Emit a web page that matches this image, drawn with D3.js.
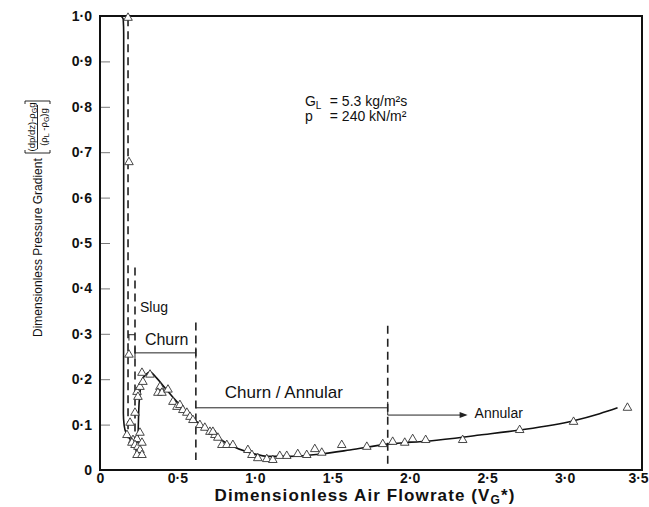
<!DOCTYPE html>
<html>
<head>
<meta charset="utf-8">
<script src="https://cdn.jsdelivr.net/npm/d3@7/dist/d3.min.js"></script>
<style>
  body { margin: 0; background: #fff; }
  svg text { font-family: "Liberation Sans", Arial, sans-serif; fill: #111; }
</style>
</head>
<body>
<script>
"use strict";

var width = 649, height = 507;
var margin = { left: 100, right: 7, top: 16, bottom: 37 };

// axis ticks
var xTicks = [0, 0.5, 1.0, 1.5, 2.0, 2.5, 3.0, 3.5];
var yTicks = [0, 0.1, 0.2, 0.3, 0.4, 0.5, 0.6, 0.7, 0.8, 0.9, 1.0];

// measured points (triangles)
var pointX = [0.181, 0.187, 0.187, 0.194, 0.226, 0.174, 0.213, 0.239, 0.206, 0.226,
  0.245, 0.258, 0.271, 0.258, 0.239, 0.271, 0.239, 0.258, 0.245, 0.271,
  0.323, 0.277, 0.387, 0.374, 0.400, 0.439, 0.471, 0.497, 0.516, 0.535,
  0.561, 0.581, 0.600, 0.645, 0.677, 0.710, 0.742, 0.761, 0.787, 0.729,
  0.819, 0.858, 0.955, 0.981, 1.019, 1.077, 1.116, 1.161, 1.206, 1.277,
  1.335, 1.387, 1.432, 1.561, 1.723, 1.826, 1.890, 1.968, 2.019, 2.103,
  2.342, 2.710, 3.058, 3.406];
var pointY = [0.996, 0.678, 0.254, 0.104, 0.126, 0.077, 0.066, 0.068, 0.060, 0.055,
  0.051, 0.044, 0.060, 0.082, 0.033, 0.033, 0.172, 0.183, 0.161, 0.214,
  0.210, 0.194, 0.183, 0.170, 0.170, 0.177, 0.150, 0.139, 0.143, 0.132,
  0.126, 0.117, 0.110, 0.099, 0.093, 0.084, 0.077, 0.071, 0.055, 0.084,
  0.055, 0.055, 0.044, 0.033, 0.026, 0.024, 0.022, 0.031, 0.031, 0.035,
  0.033, 0.046, 0.038, 0.055, 0.051, 0.057, 0.062, 0.060, 0.068, 0.066,
  0.066, 0.088, 0.106, 0.137];

// fitted curves
var curve1X = [0.135, 0.150, 0.153, 0.153, 0.152, 0.151, 0.156, 0.168, 0.194, 0.226, 0.239];
var curve1Y = [1.000, 0.993, 0.960, 0.600, 0.200, 0.125, 0.098, 0.082, 0.068, 0.051, 0.033];
var curve2X = [0.239, 0.245, 0.250, 0.258, 0.272, 0.295, 0.323, 0.365, 0.419, 0.484,
  0.548, 0.619, 0.710, 0.839, 0.968, 1.097, 1.226, 1.419, 1.613, 1.858,
  2.129, 2.452, 2.710, 3.052, 3.226, 3.342];
var curve2Y = [0.029, 0.066, 0.130, 0.170, 0.198, 0.210, 0.216, 0.203, 0.181, 0.155,
  0.132, 0.108, 0.084, 0.055, 0.038, 0.030, 0.030, 0.035, 0.044, 0.057,
  0.064, 0.077, 0.088, 0.108, 0.124, 0.137];

// regime boundaries (dashed)
var boundaryX = [0.181, 0.226, 0.619, 1.858];
var boundaryTop = [0.995, 0.446, 0.325, 0.318];
var boundaryBottom = [0.070, 0.060, 0.022, 0.008];

var regimeNames = ["Slug", "Churn", "Churn / Annular", "Annular"];

var x = d3.scaleLinear().domain([0, 3.5]).range([margin.left, width - margin.right]);
var y = d3.scaleLinear().domain([0, 1]).range([height - margin.bottom, margin.top]);

var svg = d3.select("body").append("svg")
  .attr("width", width)
  .attr("height", height);

function fmt(d) {
  return d === 0 ? "0" : d3.format(".1f")(d).replace(".", "\u00b7");
}

function drawAxes() {
  var yAxis = d3.axisLeft(y).tickValues(yTicks).tickFormat(fmt)
    .tickSizeInner(-10).tickSizeOuter(0).tickPadding(8);
  var gy = svg.append("g").attr("transform", "translate(" + margin.left + ",0)").call(yAxis);
  gy.select(".domain").remove();
  gy.selectAll(".tick line").attr("stroke", "#777");
  gy.selectAll(".tick text").style("font-size", "14px").style("font-weight", "bold");

  var xAxis = d3.axisBottom(x).tickValues(xTicks).tickFormat(fmt)
    .tickSize(0).tickPadding(3);
  var gx = svg.append("g").attr("transform", "translate(0," + y(0) + ")").call(xAxis);
  gx.select(".domain").remove();
  gx.selectAll(".tick text").style("font-size", "14px").style("font-weight", "bold")
    .attr("dx", function (d) { return d === 3.5 ? "-4px" : null; });

  // frame
  svg.append("rect")
    .attr("x", x(0)).attr("y", y(1))
    .attr("width", x(3.5) - x(0)).attr("height", y(0) - y(1))
    .attr("fill", "none").attr("stroke", "#111").attr("stroke-width", 2);

  // x title
  var xt = svg.append("text")
    .attr("x", 365).attr("y", 501)
    .attr("text-anchor", "middle")
    .style("font-size", "17px").style("font-weight", "bold").style("letter-spacing", "1.1px");
  xt.append("tspan").text("Dimensionless Air Flowrate (V");
  xt.append("tspan").attr("baseline-shift", "-25%").style("font-size", "12px").text("G");
  xt.append("tspan").text("*)");

  // y title with bracketed fraction
  var g = svg.append("g").attr("transform", "translate(42,337) rotate(-90)");
  g.append("text").attr("x", 0).attr("y", 0)
    .style("font-size", "12px")
    .text("Dimensionless Pressure Gradient");
  var f = g.append("g").attr("transform", "translate(184,0)");
  f.append("path")
    .attr("d", "M3,-17 L0,-17 L0,8 L3,8 M49,-17 L52,-17 L52,8 L49,8 M4,-4.5 L48,-4.5")
    .attr("fill", "none").attr("stroke", "#111").attr("stroke-width", 0.9);
  var num = f.append("text").attr("x", 26).attr("y", -7)
    .attr("text-anchor", "middle").style("font-size", "9.5px");
  num.append("tspan").text("(dp/dz)-\u03c1");
  num.append("tspan").attr("baseline-shift", "-25%").style("font-size", "7px").text("G");
  num.append("tspan").text("g");
  var den = f.append("text").attr("x", 26).attr("y", 4.5)
    .attr("text-anchor", "middle").style("font-size", "9.5px");
  den.append("tspan").text("(\u03c1");
  den.append("tspan").attr("baseline-shift", "-25%").style("font-size", "7px").text("L");
  den.append("tspan").text(" -\u03c1");
  den.append("tspan").attr("baseline-shift", "-25%").style("font-size", "7px").text("G");
  den.append("tspan").text(")g");
}

function drawBoundaries() {
  for (var i = 0; i < boundaryX.length; i++) {
    svg.append("line")
      .attr("class", "boundary")
      .attr("x1", x(boundaryX[i])).attr("x2", x(boundaryX[i]))
      .attr("y1", y(boundaryTop[i])).attr("y2", y(boundaryBottom[i]))
      .attr("stroke", "#222").attr("stroke-width", 1.6)
      .attr("stroke-dasharray", "8,5");
  }
}

function drawCurves() {
  var c1 = curve1X.map(function (d, i) { return [d, curve1Y[i]]; });
  var c2 = curve2X.map(function (d, i) { return [d, curve2Y[i]]; });
  var line1 = d3.line().x(function (d) { return x(d[0]); }).y(function (d) { return y(d[1]); })
    .curve(d3.curveMonotoneY);
  var line2 = d3.line().x(function (d) { return x(d[0]); }).y(function (d) { return y(d[1]); })
    .curve(d3.curveMonotoneX);
  svg.append("path").attr("d", line1(c1))
    .attr("fill", "none").attr("stroke", "#111").attr("stroke-width", 1.6);
  svg.append("path").attr("d", line2(c2))
    .attr("fill", "none").attr("stroke", "#111").attr("stroke-width", 1.6);
}

function drawPoints() {
  var tri = d3.symbol().type(d3.symbolTriangle).size(32);
  for (var i = 0; i < pointX.length; i++) {
    svg.append("path")
      .attr("d", tri())
      .attr("transform", "translate(" + x(pointX[i]) + "," + y(pointY[i]) + ")")
      .attr("fill", "#fff").attr("stroke", "#333").attr("stroke-width", 0.9);
  }
}

function drawAnnotations() {
  function seg(x1, y1, x2, y2) {
    svg.append("line")
      .attr("x1", x(x1)).attr("y1", y(y1)).attr("x2", x(x2)).attr("y2", y(y2))
      .attr("stroke", "#222").attr("stroke-width", 1);
  }
  // slug bracket
  seg(0.181, 0.298, 0.226, 0.298);
  seg(0.187, 0.298, 0.187, 0.285);
  // churn bracket
  seg(0.226, 0.258, 0.619, 0.258);
  seg(0.226, 0.270, 0.226, 0.246);
  seg(0.619, 0.270, 0.619, 0.246);
  // churn / annular then annular arrow
  seg(0.619, 0.137, 1.858, 0.137);
  seg(1.858, 0.150, 1.858, 0.121);
  seg(1.858, 0.121, 2.36, 0.121);
  var ax = x(2.374), ay = y(0.121);
  svg.append("path")
    .attr("d", "M" + ax + "," + ay + " l-8,-3 l0,6 z")
    .attr("fill", "#222");

  var labels = [
    { t: regimeNames[0], x: 0.258, y: 0.349, s: 14 },
    { t: regimeNames[1], x: 0.290, y: 0.276, s: 16 },
    { t: regimeNames[2], x: 0.806, y: 0.159, s: 17 },
    { t: regimeNames[3], x: 2.419, y: 0.115, s: 14 }
  ];
  labels.forEach(function (l) {
    svg.append("text").attr("x", x(l.x)).attr("y", y(l.y))
      .style("font-size", l.s + "px").text(l.t);
  });

  // conditions
  var gl = svg.append("text").attr("x", x(1.323)).attr("y", y(0.801)).style("font-size", "14px");
  gl.append("tspan").text("G");
  gl.append("tspan").attr("baseline-shift", "-25%").style("font-size", "10px").text("L");
  svg.append("text").attr("x", x(1.484)).attr("y", y(0.801)).style("font-size", "14px")
    .text("= 5.3 kg/m\u00b2s");
  svg.append("text").attr("x", x(1.323)).attr("y", y(0.768)).style("font-size", "14px").text("p");
  svg.append("text").attr("x", x(1.484)).attr("y", y(0.768)).style("font-size", "14px")
    .text("= 240 kN/m\u00b2");
}

drawAxes();
drawBoundaries();
drawCurves();
drawPoints();
drawAnnotations();
</script>
</body>
</html>
